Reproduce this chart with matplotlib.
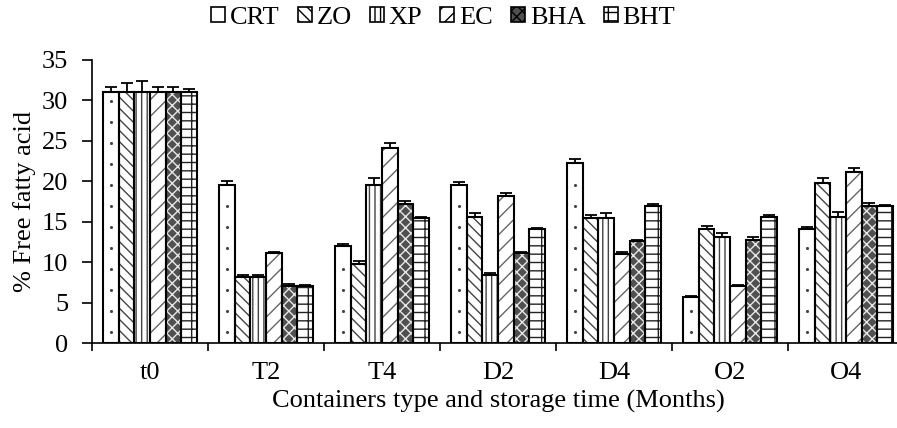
import numpy as np
import matplotlib
matplotlib.use("Agg")
import matplotlib.pyplot as plt
from matplotlib.patches import Patch

plt.rcParams['font.family'] = ['Liberation Serif', 'DejaVu Serif']
plt.rcParams['hatch.linewidth'] = 1.0

categories = ["t0", "T2", "T4", "D2", "D4", "O2", "O4"]
series_names = ["CRT", "ZO", "XP", "EC", "BHA", "BHT"]

CRT = [31.1, 19.6, 12.0, 19.5, 22.3, 5.7, 14.1]
ZO = [31.1, 8.2, 9.8, 15.6, 15.4, 14.1, 19.8]
XP = [31.1, 8.2, 19.6, 8.4, 15.4, 13.1, 15.6]
EC = [31.1, 11.1, 24.1, 18.2, 11.0, 7.1, 21.2]
BHA = [31.1, 7.1, 17.2, 11.1, 12.6, 12.8, 17.0]
BHT = [31.1, 7.0, 15.4, 14.1, 17.0, 15.6, 17.0]

CRT_err = [0.6, 0.4, 0.3, 0.4, 0.5, 0.1, 0.25]
ZO_err = [1.0, 0.2, 0.3, 0.45, 0.45, 0.4, 0.6]
XP_err = [1.3, 0.25, 0.8, 0.25, 0.65, 0.5, 0.6]
EC_err = [0.6, 0.2, 0.6, 0.4, 0.25, 0.1, 0.4]
BHA_err = [0.6, 0.2, 0.3, 0.2, 0.2, 0.35, 0.35]
BHT_err = [0.3, 0.15, 0.2, 0.15, 0.15, 0.2, 0.1]

values = [CRT, ZO, XP, EC, BHA, BHT]
errors = [CRT_err, ZO_err, XP_err, EC_err, BHA_err, BHT_err]

styles = [
    dict(face="white", hatch="", hc="black"),
    dict(face="white", hatch="\\\\\\", hc="#444444"),
    dict(face="white", hatch="|||", hc="#444444"),
    dict(face="white", hatch="//", hc="#666666"),
    dict(face="#505050", hatch="xxx", hc="#e8e8e8"),
    dict(face="white", hatch="--|", hc="#222222"),
]

FS = 19
W, H = 897, 428
fig = plt.figure(figsize=(W / 100, H / 100), dpi=100)
ax = fig.add_axes([92 / W, (H - 343) / H, 812 / W, 283 / H])

n = len(series_names)
x = np.arange(len(categories))
width = 0.134
offsets = (np.arange(n) - (n - 1) / 2) * width

for i in range(n):
    st = styles[i]
    xs = x + offsets[i]
    ax.bar(xs, values[i], width, color=st["face"], hatch=st["hatch"],
           edgecolor=st["hc"], linewidth=0, zorder=2)
    ax.bar(xs, values[i], width, fill=False, edgecolor="black",
           linewidth=1.5, zorder=3)
    ax.errorbar(xs, values[i], yerr=[np.zeros(len(xs)), errors[i]],
                fmt="none", ecolor="black", elinewidth=1.3, capsize=4.5,
                capthick=1.3, zorder=4)

# sparse dots for CRT bars
for xi, h in zip(x + offsets[0], CRT):
    ys = np.arange(1.3, h - 0.5, 2.6)
    ax.scatter(np.full(len(ys), xi), ys, s=5, color="#444444", zorder=3,
               linewidths=0)

ax.set_xlim(-0.5, len(categories) - 0.5)
ax.set_ylim(0, 35)
ax.set_yticks(np.arange(0, 36, 5))
ax.set_xticks(x)
ax.set_xticklabels(categories)
ax.set_xticks(np.arange(-0.5, len(categories), 1), minor=True)
ax.tick_params(axis="x", which="major", length=0, pad=14, labelsize=FS)
ax.tick_params(axis="x", which="minor", length=6, width=1.2, direction="out")
ax.tick_params(axis="y", length=7, width=1.2, labelsize=FS, pad=10)
for s in ["top", "right"]:
    ax.spines[s].set_visible(False)
for s in ["left", "bottom"]:
    ax.spines[s].set_linewidth(1.2)

ax.set_ylabel("% Free fatty acid", fontsize=FS, labelpad=4)
ax.set_xlabel("Containers type and storage time (Months)", fontsize=FS,
              labelpad=4)

handles = [Patch(facecolor=st["face"], edgecolor="black", hatch=st["hatch"],
                 linewidth=1.2) for st in styles]
leg = fig.legend(handles, series_names, loc="upper center",
                 bbox_to_anchor=(0.494, 1.04), ncol=6, frameon=False,
                 fontsize=FS, handlelength=0.53, handleheight=0.53,
                 handletextpad=0.19, columnspacing=0.68)

fig.savefig("out.png", dpi=100)
